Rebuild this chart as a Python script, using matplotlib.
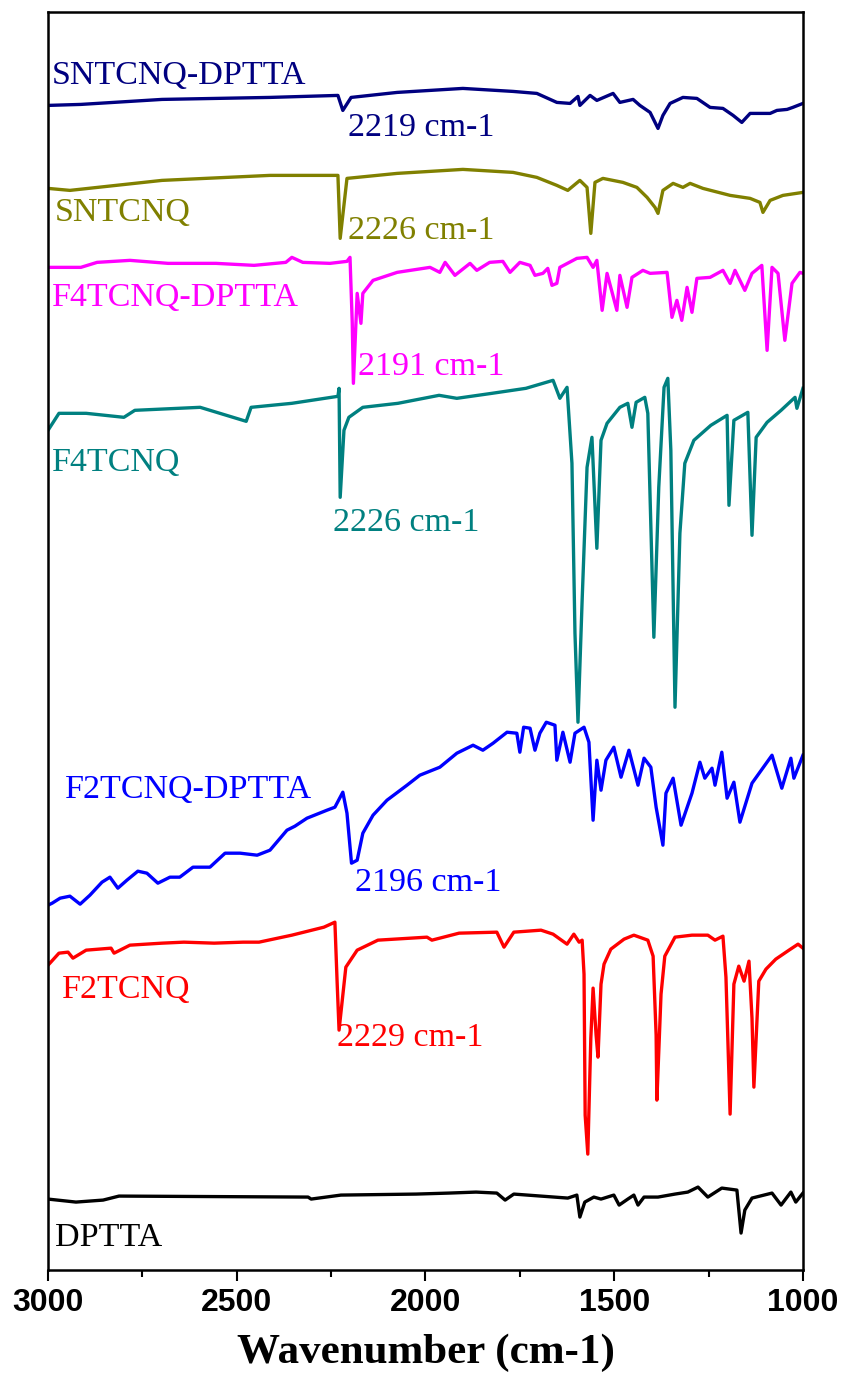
import matplotlib
matplotlib.use("Agg")
import matplotlib.pyplot as plt
from matplotlib.ticker import MultipleLocator

# stacked FTIR spectra, y in arbitrary offset units
sntcnq_dptta_wn = [3000, 2913, 2698, 2412, 2232, 2219, 2197, 2075, 1901, 1768, 1705, 1652, 1617, 1596,
                   1591, 1564, 1546, 1503, 1485, 1450, 1432, 1405, 1384, 1371, 1352, 1318, 1281, 1246,
                   1212, 1185, 1162, 1140, 1087, 1069, 1042, 1027, 1000]
sntcnq_dptta_y = [1165, 1166, 1171, 1173, 1175, 1160, 1173, 1178, 1182, 1179, 1177, 1168, 1167, 1174,
                  1165, 1175, 1170, 1177, 1168, 1171, 1165, 1158, 1142, 1155, 1167, 1173, 1172, 1163,
                  1162, 1155, 1148, 1157, 1157, 1160, 1161, 1163, 1167]

sntcnq_wn = [3000, 2942, 2698, 2412, 2253, 2232, 2226, 2208, 2075, 1901, 1768, 1705, 1652, 1623,
             1591, 1572, 1562, 1551, 1530, 1477, 1440, 1413, 1392, 1384, 1371, 1344, 1318, 1299,
             1265, 1193, 1140, 1114, 1106, 1087, 1053, 1000]
sntcnq_y = [1082, 1080, 1090, 1095, 1095, 1095, 1032, 1092, 1097, 1101, 1098, 1093, 1085, 1080,
            1090, 1083, 1037, 1088, 1092, 1088, 1083, 1073, 1063, 1057, 1080, 1087, 1083, 1087,
            1082, 1075, 1072, 1068, 1058, 1070, 1075, 1078]

f4tcnq_dptta_wn = [3000, 2913, 2870, 2783, 2682, 2555, 2454, 2370, 2354, 2325, 2253, 2208, 2200, 2194,
                   2191, 2181, 2171, 2166, 2139, 2075, 1988, 1962, 1948, 1922, 1882, 1864, 1830, 1795,
                   1776, 1750, 1723, 1710, 1689, 1676, 1665, 1652, 1644, 1599, 1572, 1556, 1546, 1532,
                   1519, 1493, 1485, 1466, 1453, 1424, 1405, 1360, 1347, 1334, 1321, 1307, 1294, 1281,
                   1246, 1212, 1193, 1180, 1154, 1135, 1109, 1095, 1082, 1066, 1048, 1029, 1008, 1000]
f4tcnq_dptta_y = [1003, 1003, 1008, 1010, 1007, 1007, 1005, 1008, 1013, 1008, 1007, 1009, 1013, 947,
                  887, 977, 947, 977, 990, 998, 1003, 998, 1008, 995, 1007, 1000, 1008, 1009,
                  998, 1008, 1005, 995, 997, 1002, 985, 987, 1003, 1012, 1013, 1003, 1010, 960,
                  997, 960, 995, 963, 993, 1000, 997, 998, 953, 970, 950, 983, 958, 992,
                  993, 1000, 987, 1000, 980, 997, 1005, 920, 1003, 997, 930, 987, 998, 997]

f4tcnq_wn = [3000, 2971, 2899, 2799, 2770, 2597, 2475, 2462, 2354, 2232, 2229, 2226, 2216, 2203,
             2166, 2073, 1964, 1917, 1824, 1734, 1662, 1644, 1625, 1612, 1604, 1596, 1585, 1572,
             1559, 1546, 1535, 1519, 1485, 1464, 1453, 1442, 1419, 1411, 1395, 1382, 1368, 1358,
             1350, 1339, 1326, 1313, 1289, 1244, 1201, 1196, 1183, 1146, 1135, 1124, 1095, 1058,
             1021, 1016, 1000]
f4tcnq_y = [840, 857, 857, 853, 860, 863, 849, 863, 867, 874, 882, 773, 840, 853,
            863, 867, 875, 872, 877, 882, 890, 872, 883, 807, 637, 548, 670, 803,
            833, 722, 830, 847, 863, 867, 843, 868, 873, 857, 633, 783, 883, 892,
            820, 563, 737, 807, 830, 845, 855, 765, 850, 858, 735, 833, 848, 860,
            873, 862, 882]

f2tcnq_dptta_wn = [3000, 2989, 2968, 2942, 2915, 2889, 2857, 2836, 2815, 2791, 2762, 2738, 2709, 2677,
                   2651, 2616, 2571, 2531, 2491, 2446, 2412, 2367, 2346, 2314, 2261, 2240, 2219, 2208,
                   2196, 2181, 2166, 2139, 2102, 2049, 2015, 1962, 1917, 1874, 1848, 1821, 1784, 1758,
                   1750, 1740, 1723, 1710, 1697, 1680, 1657, 1652, 1636, 1617, 1604, 1580, 1567, 1556,
                   1546, 1535, 1522, 1501, 1482, 1461, 1437, 1421, 1403, 1389, 1371, 1363, 1344, 1323,
                   1294, 1273, 1260, 1241, 1233, 1215, 1201, 1183, 1167, 1135, 1082, 1056, 1032, 1024,
                   1000]
f2tcnq_dptta_y = [365, 367, 372, 374, 366, 375, 388, 393, 382, 390, 399, 397, 387, 393,
                  393, 403, 403, 417, 417, 415, 420, 440, 444, 452, 460, 463, 478, 457,
                  407, 410, 437, 455, 470, 485, 495, 503, 517, 525, 520, 527, 538, 537,
                  518, 543, 542, 520, 537, 548, 545, 510, 538, 508, 537, 543, 528, 450,
                  510, 480, 510, 523, 493, 520, 485, 512, 503, 463, 425, 477, 492, 445,
                  477, 508, 492, 502, 485, 518, 472, 488, 448, 487, 515, 482, 512, 492,
                  515]

f2tcnq_wn = [3000, 2995, 2971, 2947, 2934, 2899, 2833, 2825, 2783, 2698, 2640, 2560, 2483, 2441,
             2354, 2269, 2240, 2234, 2229, 2211, 2181, 2126, 1996, 1983, 1911, 1811, 1792, 1766,
             1694, 1662, 1625, 1607, 1593, 1585, 1580, 1577, 1570, 1562, 1556, 1548, 1543, 1535,
             1527, 1509, 1474, 1448, 1411, 1397, 1389, 1387, 1376, 1366, 1339, 1294, 1252, 1233,
             1212, 1204, 1193, 1183, 1170, 1156, 1143, 1135, 1130, 1117, 1098, 1072, 1037, 1013,
             1000]
f2tcnq_y = [305, 307, 317, 318, 312, 320, 322, 317, 325, 327, 328, 327, 328, 328,
            335, 343, 348, 287, 240, 303, 320, 330, 333, 330, 337, 338, 323, 338,
            340, 336, 326, 336, 328, 330, 296, 155, 116, 232, 282, 235, 213, 286,
            306, 321, 331, 335, 330, 314, 235, 170, 276, 314, 333, 335, 335, 330,
            334, 293, 156, 286, 304, 289, 309, 252, 183, 289, 301, 311, 320, 326,
            322]

dptta_wn = [3000, 2926, 2854, 2812, 2311, 2303, 2224, 2025, 1938, 1866, 1811, 1789, 1766, 1623,
            1599, 1591, 1578, 1554, 1535, 1501, 1487, 1464, 1448, 1437, 1421, 1384, 1339, 1305,
            1278, 1252, 1215, 1175, 1164, 1154, 1135, 1082, 1058, 1032, 1019, 1000]
dptta_y = [71, 68, 70, 74, 73, 71, 75, 76, 77, 78, 77, 70, 76, 72,
           75, 53, 68, 73, 71, 75, 65, 71, 75, 65, 73, 73, 76, 78,
           83, 73, 82, 80, 37, 60, 72, 77, 65, 78, 68, 77]

series = [
    (sntcnq_dptta_wn, sntcnq_dptta_y, '#000080'),
    (sntcnq_wn, sntcnq_y, '#808000'),
    (f4tcnq_dptta_wn, f4tcnq_dptta_y, '#ff00ff'),
    (f4tcnq_wn, f4tcnq_y, '#008080'),
    (f2tcnq_dptta_wn, f2tcnq_dptta_y, '#0000ff'),
    (f2tcnq_wn, f2tcnq_y, '#ff0000'),
    (dptta_wn, dptta_y, '#000000'),
]

# (text, wavenumber, y, colour)
labels = [
    ('SNTCNQ-DPTTA', 2989, 1195, '#000080'),
    ('2219 cm-1', 2205, 1143, '#000080'),
    ('SNTCNQ', 2981, 1058, '#808000'),
    ('2226 cm-1', 2205, 1040, '#808000'),
    ('F4TCNQ-DPTTA', 2989, 973, '#ff00ff'),
    ('2191 cm-1', 2179, 904, '#ff00ff'),
    ('F4TCNQ', 2989, 808, '#008080'),
    ('2226 cm-1', 2245, 748, '#008080'),
    ('F2TCNQ-DPTTA', 2955, 480, '#0000ff'),
    ('2196 cm-1', 2187, 387, '#0000ff'),
    ('F2TCNQ', 2963, 280, '#ff0000'),
    ('2229 cm-1', 2235, 232, '#ff0000'),
    ('DPTTA', 2981, 32, '#000000'),
]

fig = plt.figure(figsize=(8.47, 13.82), dpi=100)
ax = fig.add_axes([0.0567, 0.081, 0.8913, 0.910])

for wn, y, c in series:
    ax.plot(wn, y, color=c, linewidth=2.4)

for txt, x, y, c in labels:
    ax.text(x, y, txt, color=c, fontsize=24.5, family='Liberation Serif',
            ha='left', va='center')

ax.set_xlim(3000, 1000)
ax.set_ylim(0, 1258)
ax.xaxis.set_major_locator(MultipleLocator(500))
ax.xaxis.set_minor_locator(MultipleLocator(250))
ax.tick_params(axis='x', which='major', direction='out', length=8, width=1.5, pad=5)
ax.tick_params(axis='x', which='minor', direction='out', length=5, width=1.5)
ax.set_yticks([])
for lbl in ax.get_xticklabels():
    lbl.set_fontfamily('Liberation Sans')
    lbl.set_fontweight('bold')
    lbl.set_fontsize(23)
for sp in ax.spines.values():
    sp.set_linewidth(1.8)

ax.set_xlabel('Wavenumber (cm-1)', family='Liberation Serif', fontweight='bold',
              fontsize=31, labelpad=11)

fig.savefig('out.png', dpi=100)
